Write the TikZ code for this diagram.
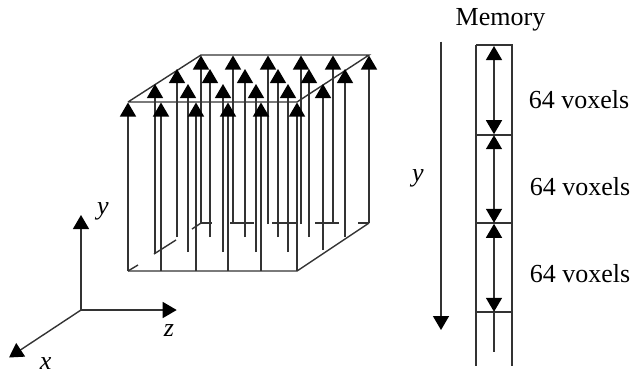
\documentclass[tikz,border=0pt]{standalone}
\usepackage{fontspec}
\setmainfont{Liberation Serif}
\usetikzlibrary{arrows.meta}
\definecolor{ink}{gray}{0.2}
\tikzset{
  ln/.style={line width=1.4pt,draw=ink},
  tipk/.tip={Triangle[length=14pt,width=16pt,color=black,fill=black]},
  ar/.style={ln,-tipk},
  dbl/.style={ln,tipk-tipk},
  lbl/.style={font=\fontsize{26}{28}\selectfont,inner sep=0pt},
  ilbl/.style={font=\fontsize{26}{28}\selectfont\itshape,inner sep=0pt},
}
\begin{document}
\begin{tikzpicture}[x=1pt,y=-1pt]
\useasboundingbox (0,0) rectangle (634,376);
% cube corners
\coordinate (ftl) at (128,102);
\coordinate (ftr) at (297,102);
\coordinate (btl) at (201,55);
\coordinate (btr) at (369,55);
\coordinate (fbl) at (128,271);
\coordinate (fbr) at (297,271);
\coordinate (bbr) at (369,223);
\draw[ln] (ftl) -- (ftr) -- (btr) -- (btl) -- (ftl);
\draw[ln] (fbl) -- (fbr) -- (bbr);
% hidden edges, broken by the arrows
\foreach \a/\b in {201/212,230/254,272/297,315/339,358/369}{
  \coordinate (ha) at (\a,223);
  \coordinate (hb) at (\b,223);
  \draw[ln] (ha) -- (hb);
}
\coordinate (s1a) at (128,271); \coordinate (s1b) at (138,265);
\coordinate (s2a) at (154,254); \coordinate (s2b) at (176,240);
\coordinate (s3a) at (192,229); \coordinate (s3b) at (201,223);
\draw[ln] (s1a) -- (s1b);
\draw[ln] (s2a) -- (s2b);
\draw[ln] (s3a) -- (s3b);
% vector arrows: x / bottom end, rows back to front
\foreach \x/\b in {201/223,233/223,268/224,301/224,333/223,369/223}{
  \coordinate (t) at (\x,55.5); \coordinate (f) at (\x,\b);
  \draw[ar] (f) -- (t);
}
\foreach \x in {177,210,245,278,309,345}{
  \coordinate (t) at (\x,69); \coordinate (f) at (\x,237);
  \draw[ar] (f) -- (t);
}
\foreach \x/\b in {155/254,188/252,223/252,256/252,288/252,323/250}{
  \coordinate (t) at (\x,84); \coordinate (f) at (\x,\b);
  \draw[ar] (f) -- (t);
}
\foreach \x in {128,161,196,228,261,297}{
  \coordinate (t) at (\x,102.5); \coordinate (f) at (\x,271);
  \draw[ar] (f) -- (t);
}
% axes
\coordinate (o) at (81,310);
\coordinate (ay) at (81,215);
\coordinate (az) at (176.7,310);
\coordinate (ax) at (9,357.5);
\draw[ar] (o) -- (ay);
\draw[ar] (o) -- (az);
\draw[ar] (o) -- (ax);
\node[ilbl] (ly) at (103,211) {y};
\node[ilbl] (lz) at (169,331) {z};
\node[ilbl] (lx) at (45.7,364) {x};
% memory direction
\coordinate (my1) at (441,41.7);
\coordinate (my2) at (441,330);
\draw[ar] (my1) -- (my2);
\node[ilbl] (lmy) at (418,178) {y};
% memory columns
\coordinate (cl1) at (476,45); \coordinate (cl2) at (476,366);
\coordinate (cr1) at (512,45); \coordinate (cr2) at (512,366);
\draw[ln] (cl1) -- (cl2);
\draw[ln] (cr1) -- (cr2);
\foreach \y in {45,135,223,312}{
  \coordinate (ra) at (476,\y); \coordinate (rb) at (512.5,\y);
  \draw[ln] (ra) -- (rb);
}
\foreach \p/\q in {46/134.2,135.2/222.8,223.8/311.8}{
  \coordinate (pa) at (494,\p); \coordinate (pb) at (494,\q);
  \draw[dbl] (pa) -- (pb);
}
\coordinate (e1) at (494,312); \coordinate (e2) at (494,352);
\draw[ln] (e1) -- (e2);
\node[lbl] (mem) at (500.5,20) {Memory};
\node[lbl] (v1) at (579,100) {64 voxels};
\node[lbl] (v2) at (580,187) {64 voxels};
\node[lbl] (v3) at (580,274) {64 voxels};
\end{tikzpicture}
\end{document}
